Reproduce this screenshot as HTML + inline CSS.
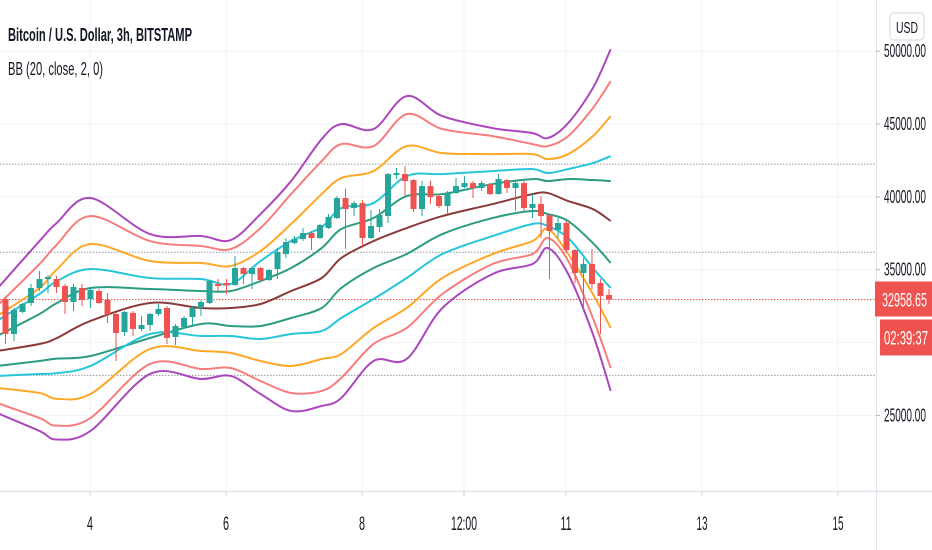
<!DOCTYPE html>
<html><head><meta charset="utf-8"><style>
html,body{margin:0;padding:0;background:#fff;}
svg{display:block;font-family:"Liberation Sans",sans-serif;}
</style></head><body>
<svg id="chart" width="932" height="550" viewBox="0 0 932 550" xmlns="http://www.w3.org/2000/svg">
<g id="grid"></g>
<g id="bands"></g>
<g id="candles"></g>
<g id="axes"></g>
<text x="8" y="41" font-size="18" font-weight="bold" fill="#131722" textLength="184" lengthAdjust="spacingAndGlyphs">Bitcoin / U.S. Dollar, 3h, BITSTAMP</text>
<text x="8" y="75" font-size="18" fill="#131722" textLength="95" lengthAdjust="spacingAndGlyphs">BB (20, close, 2, 0)</text>
<rect x="890" y="13" width="34" height="27" rx="4" fill="#fff" stroke="#d1d4dc"/>
<text x="907" y="33" font-size="16" fill="#131722" text-anchor="middle" textLength="22" lengthAdjust="spacingAndGlyphs">USD</text>
</svg>
<script>
const candleOpen=[32992,30591,32100,32718,33747,34364,34364,33884,32786,33747,32992,33541,32924,31963,30729,32032,30934,31209,31963,32375,30385,31071,31757,32375,32718,34021,34090,33953,35119,34707,35119,34296,35050,36079,36834,37108,37520,37177,37863,38549,39921,39235,39578,37177,37931,38686,41499,41567,41156,39166,40744,40058,39372,40264,40675,40950,40607,40881,40195,41156,40607,40950,39235,39509,38755,37726,38206,36354,34776,35393,34090,33267];
const candleHigh=[33129,32375,32718,34021,34913,34639,34570,34021,34021,34021,33678,33678,33404,32032,32169,32169,31826,32032,32649,32512,31277,31826,32512,32924,34296,34364,34364,35942,35187,35187,35187,35050,36491,37177,37314,37863,37657,38137,38823,40058,40538,39715,39784,39098,39166,41636,41979,42116,41224,41087,41087,40195,40401,41293,41430,41087,41087,40950,41567,41224,41087,41087,40195,40058,38823,38686,38343,36422,35805,36422,34364,33678];
const candleLow=[29905,30111,32032,32512,33541,33404,33404,31963,32169,32512,32375,32649,31346,28739,30454,30454,30797,30797,31826,29905,29837,30934,31140,31826,32649,33541,33335,33884,34021,33678,34227,34227,34364,35805,36765,36971,36354,37108,37794,38480,36422,38686,36628,37108,37589,38206,41224,40058,38961,38686,39509,39235,38823,40195,40607,39921,40401,40150,40150,40264,39029,39029,38549,37177,34364,37177,36148,34090,32306,33678,30591,32649];
const candleClose=[30591,32238,32649,33747,34364,34502,33816,32786,33816,32924,33610,32718,31963,30660,32100,30934,31209,31963,32306,30317,31140,31689,32375,32786,34227,33884,33953,35119,34707,35119,34296,34982,36217,36902,37108,37520,37177,38069,38618,39921,39166,39578,37177,38000,38755,41567,41636,41087,39166,40744,39990,39372,40264,40744,40950,40607,40950,40190,41224,40607,40950,39235,39509,38686,37657,38206,36354,34776,35393,34021,33198,32958];
const bandIndex=[-1,4,6,10,17,23,26.5,30,33.6,37.2,39.5,43.3,47.2,51.4,57.3,62,63.8,66.2,69.1,71.2];
const upper5=[33678,36971,38200,39921,37451,37314,37040,38823,41087,43968,44997,44654,46918,45546,44723,44380,44037,45066,47467,50142];
const upper4=[32512,35393,36700,38686,36971,36628,36422,37863,40195,42459,43625,43488,45683,44654,44174,43625,43488,44174,46095,47947];
const upper3=[31826,33747,35000,36765,35599,35462,35256,36285,38137,40195,41293,41773,43488,43008,42939,42939,42596,42939,44174,45546];
const upper2=[31483,33335,34200,35050,34433,34364,34021,35599,36971,37931,39235,39578,41430,41567,41773,41910,41636,41910,42322,42802];
const upper1=[30454,31963,32700,33747,33678,33541,33541,34227,35119,36491,37794,38549,40058,40195,40881,41224,41087,41224,41156,41087];
const basis=[29425,29905,30300,31483,32718,32375,32375,32649,33541,34433,35805,36971,37863,38686,39509,40195,40264,39715,39166,38343];
const lower1=[28396,28739,28900,29082,30317,31277,31140,31140,31689,32375,33747,35119,36079,37451,38549,39029,38823,38343,36834,35462];
const lower2=[27710,27847,27900,28396,30591,30454,30454,30248,30591,30797,31689,32992,34433,36079,37314,38137,38000,37177,35119,33747];
const lower3=[26887,26544,26150,26475,29562,29425,29288,28739,28396,28876,29219,31003,32375,34433,36079,36971,37794,36079,33335,31003];
const lower4=[25858,24829,24300,24829,28533,28190,28259,27367,26544,26681,27573,29905,31003,33335,35393,36079,37177,35599,31689,28259];
const lower5=[25172,23937,23350,23937,27847,27504,27710,26475,25309,25652,26201,28739,28876,32375,34707,35393,36491,34707,30591,26681];
const priceTicks=[50000,45000,40000,35000,25000];
const priceTickLabels=["50000.00","45000.00","40000.00","35000.00","25000.00"];
const dateTicks=[4,6,8,9.5,11,13,15];
const dateTickLabels=["4","6","8","12:00","11","13","15"];
const dateLabelWidths=[6,6,6,26,11,11,11];
const drawnLevels=[42250,36200,27750];
const lastPrice=32958.65;
const lastPriceLabel="32958.65";
const countdownLabel="02:39:37";

const NS="http://www.w3.org/2000/svg";
const PLOT_R=876, PLOT_B=491;
function yScale(v){return 299.5+(32958-v)*0.01457;}
function xScale(i){return 5.5+8.5*i;}
function dayToIndex(d){return 9.94+8*(d-4);}
function mk(tag,attrs,parent){const e=document.createElementNS(NS,tag);for(const k in attrs)e.setAttribute(k,attrs[k]);parent.appendChild(e);return e;}

const grid=document.getElementById('grid');
[50000,45000,40000,35000,30000,25000].forEach(v=>{
  const l=mk('line',{x1:0,x2:PLOT_R,y1:yScale(v),y2:yScale(v),stroke:'#f0f3fa','stroke-width':1},grid);
  
  
});
dateTicks.forEach(d=>{
  const x=xScale(dayToIndex(d));
  const l=mk('line',{x1:x,x2:x,y1:0,y2:PLOT_B,stroke:'#f0f3fa','stroke-width':1},grid);
  
  
});
drawnLevels.forEach(v=>{
  const l=mk('line',{x1:0,x2:PLOT_R,y1:yScale(v),y2:yScale(v),stroke:'#9598a1','stroke-width':1,'stroke-dasharray':'1.5 1.5'},grid);
  
  
});
const lp=mk('line',{x1:0,x2:PLOT_R,y1:yScale(lastPrice),y2:yScale(lastPrice),stroke:'#ef5350','stroke-width':1,'stroke-dasharray':'1.5 1.5'},grid);



function smoothPath(pts){
  let d='M'+pts[0][0]+','+pts[0][1];
  for(let i=0;i<pts.length-1;i++){
    const p0=pts[i-1]||pts[i],p1=pts[i],p2=pts[i+1],p3=pts[i+2]||p2;
    const c1x=p1[0]+(p2[0]-p0[0])/6,c1y=p1[1]+(p2[1]-p0[1])/6;
    const c2x=p2[0]-(p3[0]-p1[0])/6,c2y=p2[1]-(p3[1]-p1[1])/6;
    d+='C'+c1x+','+c1y+' '+c2x+','+c2y+' '+p2[0]+','+p2[1];
  }
  return d;
}
const bandsG=document.getElementById('bands');
const bandSeries=[[upper5,'#ab47bc','upper-band-5'],[upper4,'#f77c7c','upper-band-4'],[upper3,'#ffa726','upper-band-3'],[upper2,'#26c6da','upper-band-2'],[upper1,'#2a9d80','upper-band-1'],[basis,'#8b3a3a','basis-line'],[lower1,'#2a9d80','lower-band-1'],[lower2,'#26c6da','lower-band-2'],[lower3,'#ffa726','lower-band-3'],[lower4,'#f77c7c','lower-band-4'],[lower5,'#ab47bc','lower-band-5']];
bandSeries.forEach(s=>{
  const pts=bandIndex.map((t,i)=>[xScale(t),yScale(s[0][i])]);
  const p=mk('path',{d:smoothPath(pts),fill:'none',stroke:s[1],'stroke-width':2,'stroke-linejoin':'round'},bandsG);
  
  
});

const cg=document.getElementById('candles');
candleOpen.forEach((o,i)=>{
  const c=candleClose[i],h=candleHigh[i],l=candleLow[i];
  const col=c>=o?'#26a69a':'#ef5350';
  const x=xScale(i);
  const g=mk('g',{},cg);
  
  
  mk('line',{x1:x,x2:x,y1:yScale(h),y2:yScale(l),stroke:col,'stroke-width':1},g);
  const top=yScale(Math.max(o,c)),bot=yScale(Math.min(o,c));
  mk('rect',{x:x-3,y:top,width:6,height:Math.max(1,bot-top),fill:col},g);
});

const ax=document.getElementById('axes');
const ya=mk('line',{x1:PLOT_R+0.5,x2:PLOT_R+0.5,y1:0,y2:550,stroke:'#e0e3eb'},ax);


const xa=mk('line',{x1:0,x2:932,y1:PLOT_B+0.5,y2:PLOT_B+0.5,stroke:'#e0e3eb','stroke-width':1.5},ax);


priceTicks.forEach((v,k)=>{
  const y=yScale(v);
  const tk=mk('line',{x1:PLOT_R,x2:PLOT_R+4,y1:y,y2:y,stroke:'#b2b5be'},ax);
  
  
  const t=mk('text',{x:884,y:y+6,'font-size':18,fill:'#131722',textLength:42,lengthAdjust:'spacingAndGlyphs'},ax);
  t.textContent=priceTickLabels[k];
  
  
});
dateTicks.forEach((d,k)=>{
  const x=xScale(dayToIndex(d));
  const tk=mk('line',{x1:x,x2:x,y1:PLOT_B,y2:PLOT_B+5,stroke:'#d1d4dc'},ax);
  
  
  const t=mk('text',{x:x-dateLabelWidths[k]/2,y:530,'font-size':19,fill:'#131722',textLength:dateLabelWidths[k],lengthAdjust:'spacingAndGlyphs'},ax);
  t.textContent=dateTickLabels[k];
  
  
});
const py=yScale(lastPrice);
const pb=mk('rect',{x:PLOT_R-1,y:py-18,width:58,height:35,fill:'#ef5350'},ax);


const pt=mk('text',{x:882,y:py+7,'font-size':19,fill:'#fff',textLength:45,lengthAdjust:'spacingAndGlyphs'},ax);
pt.textContent=lastPriceLabel;


const cb=mk('rect',{x:880,y:py+20,width:52,height:36,fill:'#ef5350'},ax);


const ct=mk('text',{x:884,y:py+45,'font-size':19,fill:'#fff',textLength:44,lengthAdjust:'spacingAndGlyphs'},ax);
ct.textContent=countdownLabel;


</script>
</body></html>
